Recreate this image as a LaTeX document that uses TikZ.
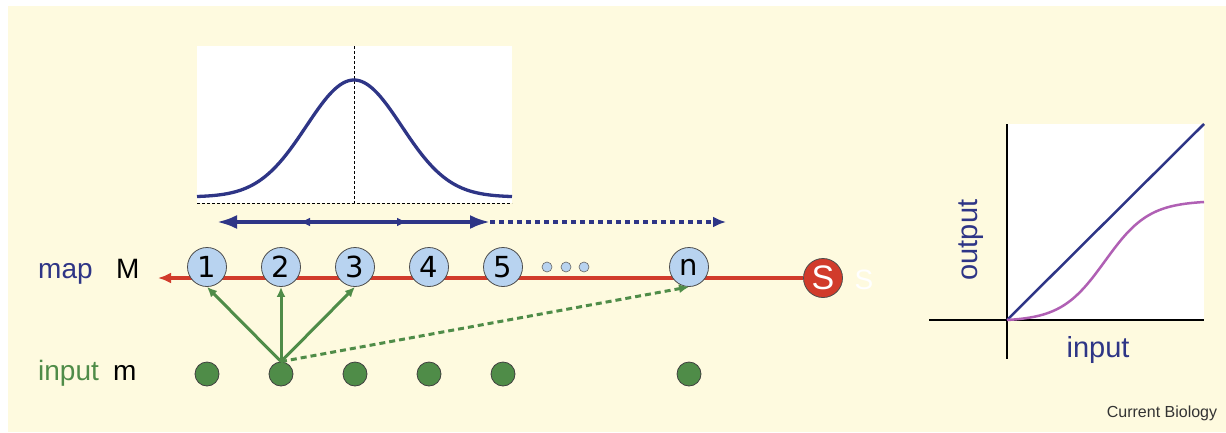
\documentclass[tikz,border=0pt]{standalone}
\usepackage{fontspec}
\setmainfont{Liberation Sans}
\newfontfamily\numfont{DejaVu Sans}
\usetikzlibrary{arrows.meta}
\definecolor{cream}{HTML}{FEFADF}
\definecolor{mapblue}{HTML}{2E3586}
\definecolor{mapred}{HTML}{D13B2B}
\definecolor{cellblue}{HTML}{B8D3F0}
\definecolor{inpgreen}{HTML}{4F8C48}
\definecolor{sigpurple}{HTML}{B060B4}

\begin{document}
\begin{tikzpicture}[x=1pt,y=-1pt,
  cell/.style={circle,draw=black!70,line width=0.8pt,fill=cellblue,
    minimum size=39pt,inner sep=0pt,font=\numfont\fontsize{29}{29}\selectfont},
  inp/.style={circle,draw=black!75,line width=0.8pt,fill=inpgreen,
    minimum size=24pt,inner sep=0pt},
  gline/.style={inpgreen,line width=3pt,-{Latex[length=10pt,width=9pt]}},
  bline/.style={mapblue,line width=3.6pt},
  lab/.style={anchor=base west,inner sep=0pt,font=\fontsize{28}{28}\selectfont},
  tick/.style={black,line width=1pt,dash pattern=on 3pt off 2pt}]
  \useasboundingbox (0,0) rectangle (1226,432);
  \fill[cream] (8,6) rectangle (1226,432);

  % tuning curve
  \fill[white] (197,46) rectangle (512,203);
  \draw[tick] (197,203) -- (512,203);
  \draw[tick] (354,46) -- (354,203);
  \draw[mapblue,line width=3.3pt,domain=197:512,samples=120]
    plot (\x,{197-117*exp(-0.5*((\x-354)/47.6)*((\x-354)/47.6))});

  % spread of the activity
  \coordinate (bl) at (217,222);
  \coordinate (br) at (490,222);
  \coordinate (bm) at (354,222);
  \coordinate (bq1) at (300,222);
  \coordinate (bq2) at (407,222);
  \coordinate (bd) at (726,222);
  \draw[bline,{Latex[length=20pt,width=14pt]}-{Latex[length=20pt,width=14pt]}] (bl) -- (br);
  \draw[bline,-{Latex[length=10pt,width=9pt]}] (bm) -- (bq1);
  \draw[bline,-{Latex[length=10pt,width=9pt]}] (bm) -- (bq2);
  \draw[bline,dash pattern=on 5pt off 4pt,-{Latex[length=13pt,width=11pt]}] (br) -- (bd);

  % the map
  \node[circle,draw=black!70,line width=0.8pt,fill=mapred,minimum size=39pt,
    inner sep=0pt,text=white,font=\fontsize{34}{34}\selectfont] (sig) at (823,278) {S};
  \coordinate (redend) at (158,278);
  \draw[mapred,line width=3.6pt,-{Latex[length=13pt,width=11pt]}] (sig.west) -- (redend);
  \foreach \i in {1,...,5}
    \node[cell] (m\i) at ({207+74*(\i-1)},267) {\i};
  \node[cell] (mn) at (689,267) {n};
  \foreach \x [count=\k] in {547,566,584}
    \node[circle,draw=black!60,line width=0.6pt,fill=cellblue,minimum size=10pt,
      inner sep=0pt] (dot\k) at (\x,267) {};
  \node[anchor=base,text=white,font=\fontsize{28}{28}\selectfont] (slab) at (864,289) {S};

  % inputs
  \foreach \i/\x in {1/207,2/281,3/355,4/429,5/503,n/689}
    \node[inp] (in\i) at (\x,374) {};
  \foreach \k in {1,2,3}
    \draw[gline] (in2.north) -- (m\k.south);
  \draw[gline,dash pattern=on 6pt off 4pt] (in2.north) -- (mn.south);

  \node[lab,text=mapblue] (maplab) at (38,278) {map};
  \node[lab] (Mlab) at (116,278) {M};
  \node[lab,text=inpgreen] (inplab) at (38,380) {input};
  \node[lab] (mlab) at (113,380) {m};

  % input-output function
  \fill[white] (1007,124) rectangle (1204,320);
  \draw[line width=1.5pt] (929,320) -- (1204,320);
  \draw[line width=1.5pt] (1007,124) -- (1007,359);
  \draw[mapblue,line width=2.5pt] (1007,320) -- (1204,124);
  \draw[sigpurple,line width=2.5pt,domain=1007:1204,samples=100]
    plot (\x,{320-118*(1/(1+exp(-(\x-1105)/22))-0.0115)/0.9774});
  \node[anchor=base,rotate=90,text=mapblue,font=\fontsize{29}{29}\selectfont]
    (outlab) at (977,240) {output};
  \node[anchor=base,text=mapblue,font=\fontsize{29}{29}\selectfont]
    (inlab) at (1098,357) {input};

  \node[text=black!80,font=\fontsize{16}{16}\selectfont] (credit) at (1162,413) {Current Biology};
\end{tikzpicture}
\end{document}
